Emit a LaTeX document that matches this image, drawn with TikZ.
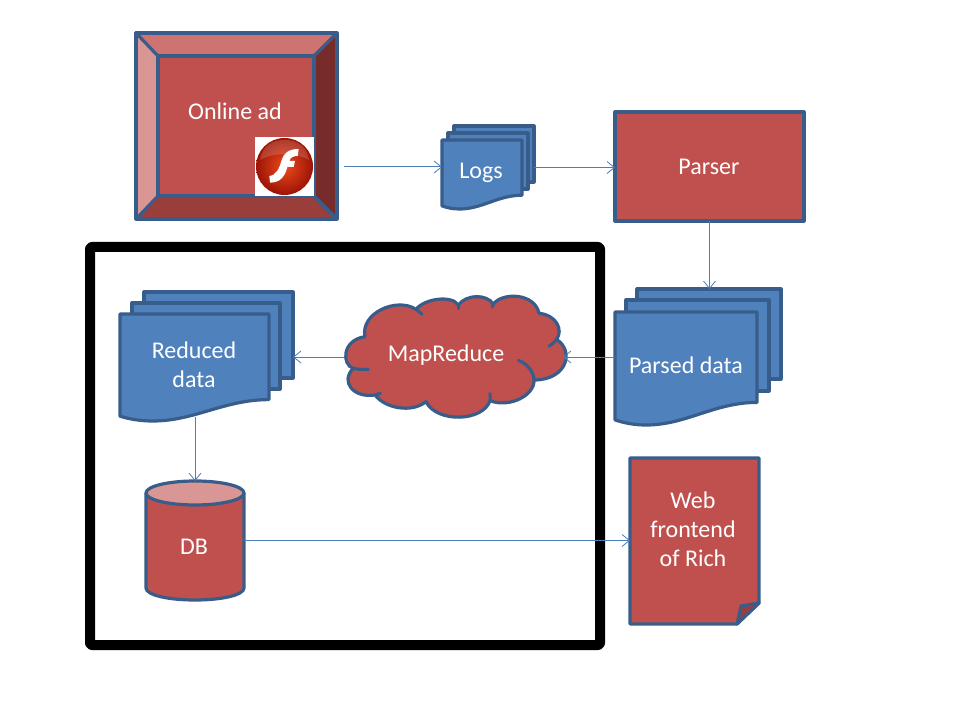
\documentclass[tikz,border=0pt]{standalone}
\usepackage{fontspec}
\setmainfont{Carlito}
\usetikzlibrary{arrows.meta}
\definecolor{edgeblue}{HTML}{385D8A}
\definecolor{linkblue}{HTML}{4A7EBB}
\definecolor{redfill}{HTML}{C0504D}
\definecolor{bluefill}{HTML}{4F81BD}
\definecolor{bevtop}{HTML}{CD7371}
\definecolor{bevleft}{HTML}{D99694}
\definecolor{bevright}{HTML}{772C2A}
\definecolor{bevbottom}{HTML}{9A3E3C}
\definecolor{flashin}{HTML}{EE4A1E}
\definecolor{flashout}{HTML}{9C1405}
\tikzset{
  x=0.75pt,y=-0.75pt,
  slot/.style 2 args={inner sep=0pt,outer sep=0pt,minimum width=#1*0.75pt,minimum height=#2*0.75pt},
  outline/.style={draw=edgeblue,line width=2.4pt,line join=round},
  redshape/.style={outline,fill=redfill},
  blueshape/.style={outline,fill=bluefill},
  label/.style={text=white,font=\fontsize{18}{21.6}\selectfont,align=center,inner sep=0pt},
  link/.style={draw=linkblue,line width=0.75pt,-{Straight Barb[length=5.5pt,width=9pt,line width=0.6pt]}},
}
\newcommand{\docsheet}[5]{% left top width height style
  \path[#5,shift={(#1,#2)},xscale=#3,yscale=#4]
    (0,0)--(1,0)--(1,.8) .. controls (.7,.8) and (.5,1) .. (.22,1)
    .. controls (.13,1) and (.06,.98) .. (0,.955) -- cycle;
}
\begin{document}
\begin{tikzpicture}
\useasboundingbox (0,0) rectangle (960,720);
\fill[white] (0,0) rectangle (960,720);

% frame
\draw[line width=7.5pt,line join=round,rounded corners=1.5pt] (90,247) rectangle (600,645);

% anchor boxes of the shapes
\node[slot={202}{187}] (ad) at (236,125.5) {};
\node[slot={92}{83}] (logs) at (488,167.5) {};
\node[slot={189}{109}] (parser) at (709.5,166.5) {};
\node[slot={166}{136}] (parsed) at (698,357) {};
\node[slot={218}{122}] (cloud) at (454,357) {};
\node[slot={173}{129}] (reduced) at (206.5,356.5) {};
\node[slot={98}{119}] (db) at (195,540.5) {};
\node[slot={129}{166}] (web) at (694.5,541) {};
\coordinate (adOut) at (344,167);

% online ad bevel
\fill[bevtop] (135,33)--(337,33)--(314,56)--(158,56)--cycle;
\fill[bevleft] (135,33)--(158,56)--(158,196)--(135,219)--cycle;
\fill[bevright] (337,33)--(337,219)--(314,196)--(314,56)--cycle;
\fill[bevbottom] (135,219)--(158,196)--(314,196)--(337,219)--cycle;
\draw[redshape] (158,56) rectangle (314,196);
\draw[outline] (136,33) rectangle (337,219);
\draw[outline] (136,33)--(158,56) (337,33)--(314,56) (136,219)--(158,196) (337,219)--(314,196);

% flash icon
\fill[white] (255,137) rectangle (314,196);
\shade[inner color=flashin,outer color=flashout] (284.5,166.5) circle[radius=28.5];
\fill[white,opacity=.16] (260,160) .. controls (262,146) and (272,140) .. (284.5,140)
  .. controls (297,140) and (307,146) .. (309,160) .. controls (295,152) and (275,152) .. (260,160) -- cycle;
\begin{scope}[shift={(245,125)},xscale=.3333,yscale=.3333]
\fill[white] (73,153) .. controls (95,150) and (103,130) .. (110,105)
  .. controls (116,84) and (132,72) .. (161,72) -- (158,93)
  .. controls (145,93) and (136,97) .. (133,108) -- (150,108) -- (146,126) -- (127,126)
  .. controls (120,155) and (105,173) .. (75,173) -- cycle;
\end{scope}

% logs
\draw[blueshape] (454,126) rectangle (534,182);
\draw[blueshape] (448,133) rectangle (528,189);
\docsheet{442}{140}{80}{69}{blueshape}

% parser
\draw[redshape] (615,112) rectangle (804,221);

% parsed data
\draw[blueshape] (637,289) rectangle (781,379);
\draw[blueshape] (626,300) rectangle (769,391);
\docsheet{615}{312}{142}{113}{blueshape}

% reduced data
\draw[blueshape] (144,292) rectangle (293,378);
\draw[blueshape] (132,303) rectangle (280,389);
\docsheet{120}{314}{149}{107}{blueshape}

% cloud
\begin{scope}[shift={(340,280)},xscale=.3333,yscale=.3333]
\path[redshape] (40,265)
  .. controls (5,255) and (5,180) .. (75,170)
  .. controls (60,100) and (170,50) .. (228,88)
  .. controls (255,55) and (335,45) .. (355,75)
  .. controls (380,42) and (440,42) .. (460,72)
  .. controls (490,35) and (585,40) .. (597,100)
  .. controls (650,105) and (670,150) .. (650,178)
  .. controls (705,215) and (680,300) .. (582,300)
  .. controls (585,345) and (510,385) .. (450,362)
  .. controls (430,425) and (290,430) .. (258,365)
  .. controls (215,400) and (135,385) .. (105,345)
  .. controls (40,355) and (0,305) .. (40,265) -- cycle;
\draw[outline,line cap=round] (40,265) .. controls (52,268) and (70,269) .. (85,268);
\draw[outline,line cap=round] (228,88) .. controls (234,92) and (240,97) .. (246,103);
\draw[outline,line cap=round] (355,75) .. controls (355,78) and (355,82) .. (355,86);
\draw[outline,line cap=round] (460,72) .. controls (459,75) and (458,78) .. (457,81);
\draw[outline,line cap=round] (650,178) .. controls (645,186) and (637,193) .. (628,198);
\draw[outline,line cap=round] (582,300) .. controls (582,275) and (560,250) .. (535,241);
\draw[outline,line cap=round] (450,362) .. controls (451,355) and (451,348) .. (450,341);
\draw[outline,line cap=round] (105,345) .. controls (110,344) and (116,342) .. (121,340);
\end{scope}

% db
\draw[redshape] (146,493) -- (146,588) .. controls (146,595) and (168,600) .. (195,600)
  .. controls (222,600) and (244,595) .. (244,588) -- (244,493) -- cycle;
\draw[outline,fill=bevleft] (195,493) ellipse[x radius=49,y radius=12];

% web page
\path[redshape] (630,458)--(759,458)--(759,603)--(737,624)--(630,624)--cycle;
\path[outline,fill=bevbottom] (737,624)--(741,606)--(759,603)--cycle;

% connectors
\draw[link] (adOut) -- (adOut -| logs.west);
\draw[link] (logs.east) -- (logs.east -| parser.west);
\draw[link] (parser.south) -- (parser.south |- parsed.north);
\draw[link] (parsed.west) -- (parsed.west -| cloud.east);
\draw[link] (cloud.west) -- (cloud.west -| reduced.east);
\draw[link,shorten <=-3pt] (db.north |- reduced.south) -- (db.north);
\draw[link] (db.east) -- (db.east -| web.west);

% labels
\node[label] (adText) at (235,111) {Online ad};
\node[label] (logsText) at (481,173) {Logs};
\node[label] (parserText) at (709,167) {Parser};
\node[label] (parsedText) at (686,365) {Parsed data};
\node[label] (cloudText) at (446,355) {MapReduce};
\node[label] (reducedText) at (194,365) {Reduced\\data};
\node[label] (dbText) at (194,547) {DB};
\node[label] (webText) at (693,529) {Web\\frontend\\of Rich};
\end{tikzpicture}
\end{document}
